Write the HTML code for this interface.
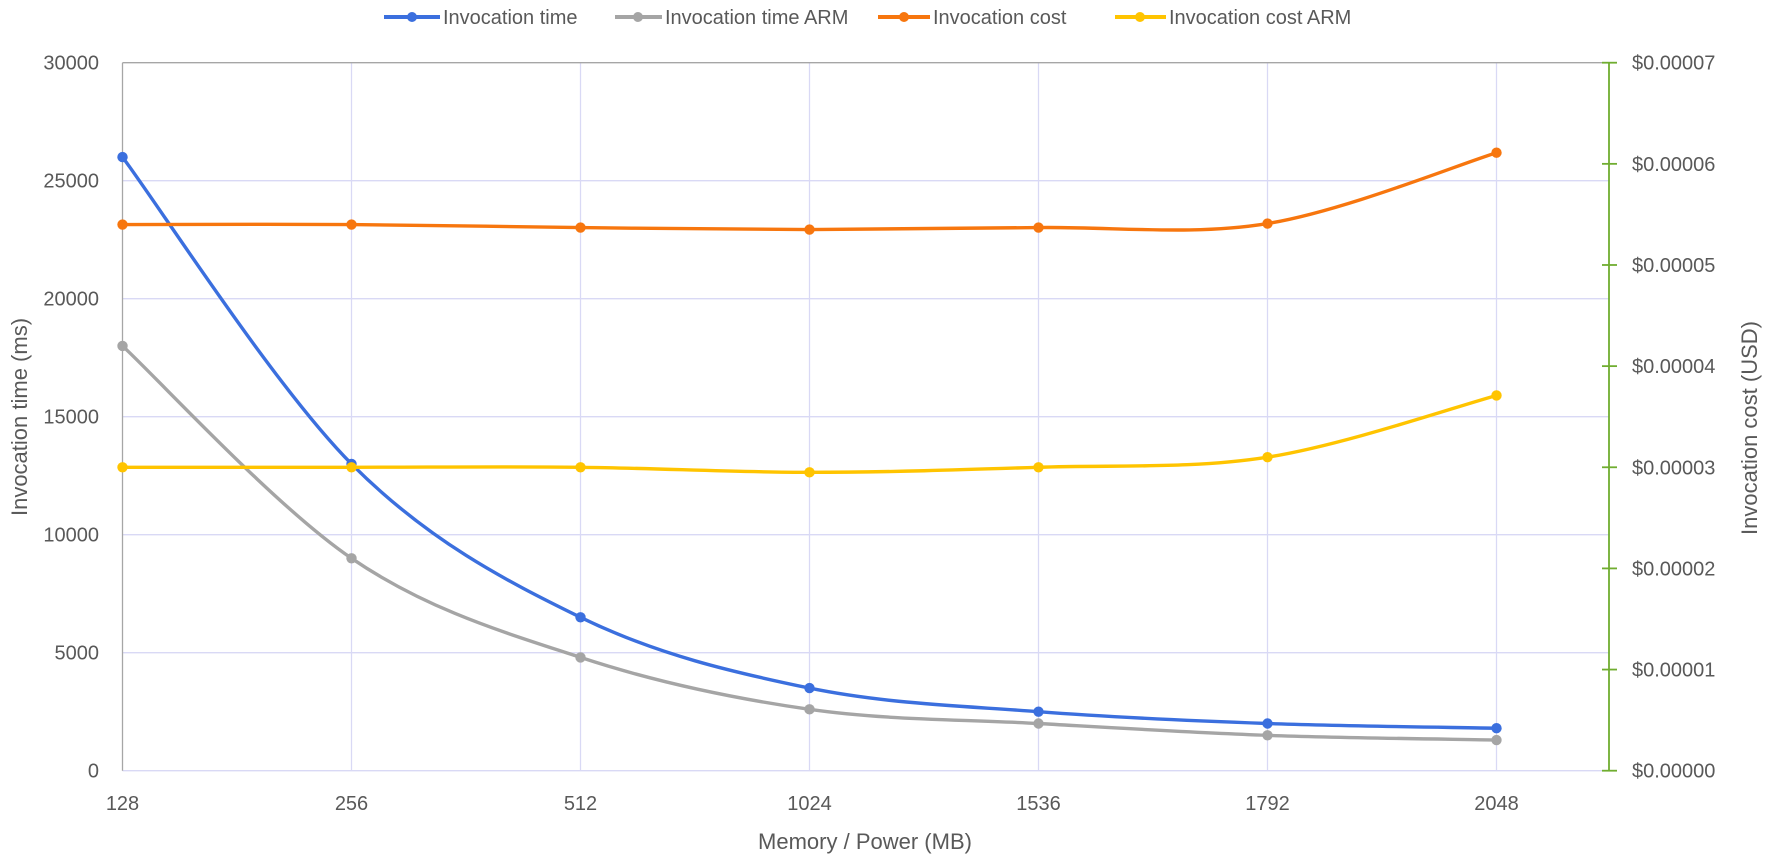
<!DOCTYPE html>
<html><head><meta charset="utf-8"><style>
html,body{margin:0;padding:0;background:#fff;}
svg{display:block;font-family:"Liberation Sans",sans-serif;}
</style></head><body>
<svg id="c" width="1767" height="860" viewBox="0 0 1767 860" xmlns="http://www.w3.org/2000/svg">
<g id="grid"></g>
<line x1="122.5" y1="62.7" x2="1609" y2="62.7" stroke="#a6a6a6" stroke-width="1.3"/>
<line x1="122.5" y1="62.7" x2="122.5" y2="770.7" stroke="#a6a6a6" stroke-width="1.3"/>
<line x1="1609" y1="62.7" x2="1609" y2="770.7" stroke="#70ad30" stroke-width="1.8"/>
<g id="ticks" fill="#595959" font-size="20"></g>
<g id="series"></g>
<text x="865" y="849" text-anchor="middle" fill="#595959" font-size="22">Memory / Power (MB)</text>
<text transform="translate(27,417) rotate(-90)" text-anchor="middle" fill="#595959" font-size="22">Invocation time (ms)</text>
<text transform="translate(1757,428) rotate(-90)" text-anchor="middle" fill="#595959" font-size="22">Invocation cost (USD)</text>
<g font-size="20" fill="#595959">
<line x1="384" y1="17" x2="440" y2="17" stroke="#3b6fde" stroke-width="4"/><circle cx="412" cy="17" r="5" fill="#3b6fde"/>
<text x="443" y="24">Invocation time</text>
<line x1="615" y1="17" x2="662" y2="17" stroke="#a5a5a5" stroke-width="4"/><circle cx="638" cy="17" r="5" fill="#a5a5a5"/>
<text x="665" y="24">Invocation time ARM</text>
<line x1="878" y1="17" x2="930" y2="17" stroke="#f7760e" stroke-width="4"/><circle cx="904" cy="17" r="5" fill="#f7760e"/>
<text x="933" y="24">Invocation cost</text>
<line x1="1115" y1="17" x2="1166" y2="17" stroke="#ffc400" stroke-width="4"/><circle cx="1140" cy="17" r="5" fill="#ffc400"/>
<text x="1169" y="24">Invocation cost ARM</text>
</g>
</svg>
<script>
var NS="http://www.w3.org/2000/svg";
function el(p,t,a,txt){var e=document.createElementNS(NS,t);for(var k in a)e.setAttribute(k,a[k]);if(txt!==undefined)e.textContent=txt;document.getElementById(p).appendChild(e);return e;}
var X0=122.5,DX=229,YB=770.7,YT=62.7;
var cats=["128","256","512","1024","1536","1792","2048"];
for(var i=0;i<=6;i++){var y=YB-(YB-YT)*i/6;
 if(i>0&&i<6)el("grid","line",{x1:X0,y1:y,x2:1609,y2:y,stroke:"#d9d9f5","stroke-width":1.3});
 el("ticks","text",{x:99,y:y+7,"text-anchor":"end"},String(i*5000));}
el("grid","line",{x1:X0,y1:YB,x2:1609,y2:YB,stroke:"#d9d9f5","stroke-width":1.3});
for(var i=0;i<7;i++){var x=X0+DX*i;
 if(i>0)el("grid","line",{x1:x,y1:YT,x2:x,y2:YB,stroke:"#d9d9f5","stroke-width":1.3});
 el("ticks","text",{x:x,y:810,"text-anchor":"middle"},cats[i]);}
for(var j=0;j<=7;j++){var y=YB-(YB-YT)*j/7;
 el("ticks","line",{x1:1602,y1:y,x2:1617,y2:y,stroke:"#70ad30","stroke-width":1.8});
 el("ticks","text",{x:1632,y:y+7},"$0.0000"+j);}
function path(ys,col){var p=ys.map(function(v,i){return [X0+DX*i,v];});
 var d="M"+p[0][0]+","+p[0][1];
 for(var i=0;i<p.length-1;i++){var a=p[Math.max(0,i-1)],b=p[i],c=p[i+1],e=p[Math.min(p.length-1,i+2)];
  var t=6;d+=" C"+(b[0]+(c[0]-a[0])/t)+","+(b[1]+(c[1]-a[1])/t)+" "+(c[0]-(e[0]-b[0])/t)+","+(c[1]-(e[1]-b[1])/t)+" "+c[0]+","+c[1];}
 el("series","path",{d:d,fill:"none",stroke:col,"stroke-width":3.4,"stroke-linejoin":"round"});
 p.forEach(function(q){el("series","circle",{cx:q[0],cy:q[1],r:5.2,fill:col});});}
function ty(v){return YB-v*(YB-YT)/30000;}
function cy(v){return YB-v*(YB-YT)/7;}
path([18000,9000,4800,2600,2000,1500,1300].map(ty),"#a5a5a5");
path([26000,13000,6500,3500,2500,2000,1800].map(ty),"#3b6fde");
path([5.40,5.40,5.37,5.35,5.37,5.41,6.11].map(cy),"#f7760e");
path([3.0,3.0,3.0,2.95,3.0,3.10,3.71].map(cy),"#ffc400");
</script>
</body></html>
